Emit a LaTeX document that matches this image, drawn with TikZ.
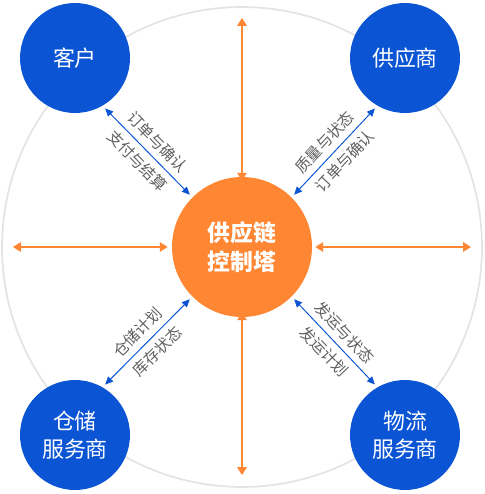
\documentclass[tikz,border=0pt]{standalone}
\usepackage{fontspec}
\setmainfont{Noto Sans CJK SC}
\usetikzlibrary{arrows.meta, positioning, calc}
\definecolor{brand}{HTML}{0B55D5}
\definecolor{hot}{HTML}{FF8632}
\definecolor{ring}{HTML}{E4E4E4}
\definecolor{caption}{HTML}{606060}
\tikzset{
  party/.style={circle, fill=brand, text=white, align=center, minimum size=2.2cm, inner sep=0pt, font=\fontsize{12.5}{16}\selectfont},
  hub/.style={circle, fill=hot, text=white, align=center, minimum size=2.8cm, inner sep=0pt, font=\fontsize{13}{16.5}\selectfont\bfseries},
  link/.style={{Triangle[length=4.5pt,width=4pt]}-{Triangle[length=4.5pt,width=4pt]}, draw=brand, line width=0.55pt, shorten <=2pt, shorten >=2pt},
  spoke/.style={{Triangle[length=4.5pt,width=5.5pt]}-{Triangle[length=4.5pt,width=5.5pt]}, draw=hot, line width=0.6pt},
  linklab/.style={font=\fontsize{8.8}{10}\selectfont, text=caption, sloped, inner sep=3.5pt},
}

\begin{document}
\begin{tikzpicture}[x=0.02cm, y=-0.02cm]
  \useasboundingbox (0,0) rectangle (484,494);
  \draw[ring, line width=1pt] (242,247) circle[radius=4.8cm];

  \node[hub] (tower) at (242,247) {供应链\\控制塔};
  \node[party] (cust) at (75,58) {客户};
  \node[party] (sup) at (405,58) {供应商};
  \node[party] (ware) at (75,435) {仓储\\服务商};
  \node[party] (logi) at (405,435) {物流\\服务商};

  % free ends of the orange spokes
  \coordinate (topend) at (242,18);
  \coordinate (botend) at (242,475);
  \coordinate (leftend) at (13,247);
  \coordinate (rightend) at (471,247);

  \draw[spoke] (topend) -- ($(tower.north)+(0,4)$);
  \draw[spoke] ($(tower.south)+(0,-5)$) -- (botend);
  \draw[spoke] (leftend) -- ($(tower.west)+(-4,0)$);
  \draw[spoke] ($(tower.east)+(3,0)$) -- (rightend);

  \draw[link] (cust.-60) -- node[linklab, above]{订单与确认} node[linklab, below]{支付与结算} (tower.135);
  \draw[link] (tower.45) -- node[linklab, above]{质量与状态} node[linklab, below]{订单与确认} (sup.-120);
  \draw[link] (ware.60) -- node[linklab, above]{仓储计划} node[linklab, below]{库存状态} (tower.-135);
  \draw[link] (tower.-45) -- node[linklab, above]{发运与状态} node[linklab, below]{发运计划} (logi.120);
\end{tikzpicture}
\end{document}
